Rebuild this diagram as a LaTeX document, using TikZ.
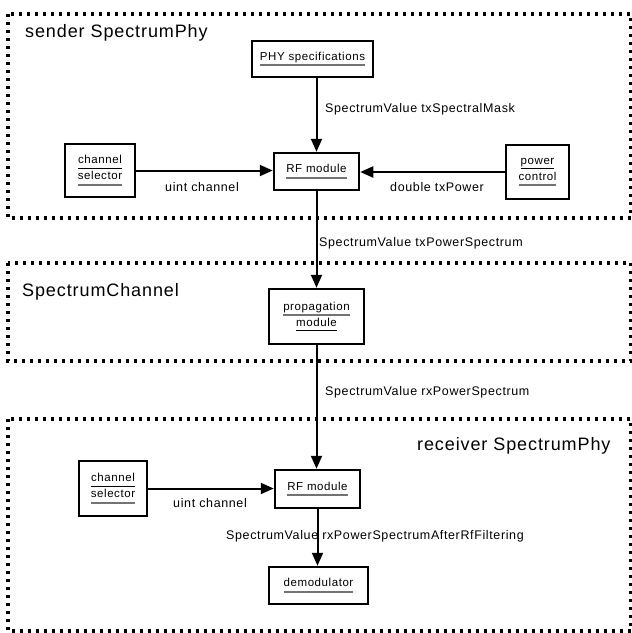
\documentclass[tikz,border=0pt]{standalone}
\usepackage{fontspec}
\setmainfont{Liberation Sans}
\newfontfamily\lsfont[LetterSpace=5]{Liberation Sans}
\usetikzlibrary{arrows.meta}
\definecolor{ulgray}{gray}{0.45}
\newsavebox\ulbox
\newcommand\ulx[3]{\sbox\ulbox{#3}\vtop{\offinterlineskip\hbox{\usebox\ulbox}\kern-\dp\ulbox\kern4pt\hbox{\color{#1}\rule{\wd\ulbox}{#2}}}}
\newcommand\ulk[1]{\ulx{black}{1pt}{#1}}
\newcommand\ulg[1]{\ulx{ulgray}{1.8pt}{#1}}
\begin{document}
\begin{tikzpicture}[x=1pt,y=-1pt,
 region/.style={draw, line width=3.3pt, dash pattern=on 3pt off 5pt},
 modbox/.style={draw, line width=2.5pt, inner sep=0pt, font=\lsfont\fontsize{11.5}{16}\selectfont, align=center},
 arr/.style={line width=2pt, -{Triangle[length=13pt,width=11pt]}},
 lbl/.style={font=\lsfont\fontsize{12.5}{14}\selectfont, inner sep=0pt, anchor=west},
 ttl/.style={font=\lsfont\fontsize{18}{20}\selectfont, inner sep=0pt, anchor=base west}]
\path[use as bounding box] (0,0) rectangle (632,633);
% regions
\draw[region] (8,14) rectangle (631,218);
\draw[region] (8,263) rectangle (631,361);
\draw[region] (8,419) rectangle (631,631);
\node[ttl] (t1) at (25,37) {sender SpectrumPhy};
\node[ttl] (t2) at (22,296) {SpectrumChannel};
\node[ttl] (t3) at (417,450) {receiver SpectrumPhy};
% modules
\node[modbox, minimum width=121pt, minimum height=36pt] (phy) at (312.5,59) {\ulg{PHY specifications}};
\node[modbox, minimum width=85pt, minimum height=37pt] (rf1) at (316.5,171.5) {\ulg{RF module}};
\node[modbox, minimum width=70pt, minimum height=53pt] (sel1) at (100,170.5) {\ulk{channel}\\\ulg{selector}};
\node[modbox, minimum width=63pt, minimum height=54pt] (pow) at (537.5,172) {\ulk{power}\\\ulg{control}};
\node[modbox, minimum width=95pt, minimum height=55pt] (prop) at (316.5,316.5) {\ulg{propagation}\\\ulk{module}};
\node[modbox, minimum width=85pt, minimum height=38pt] (rf2) at (317.5,489) {\ulg{RF module}};
\node[modbox, minimum width=68pt, minimum height=55pt] (sel2) at (113,488.5) {\ulk{channel}\\\ulg{selector}};
\node[modbox, minimum width=99pt, minimum height=37pt] (demod) at (318.5,585.5) {\ulg{demodulator}};
% connectors
\draw[arr] (rf1.north |- phy.south) -- (rf1.north);
\draw[arr] (sel1.east) -- (sel1.east -| rf1.west);
\draw[arr] (pow.west) -- (pow.west -| rf1.east);
\draw[arr] (rf1.south) -- (rf1.south |- prop.north);
\draw[arr] (prop.south) -- (prop.south |- rf2.north);
\draw[arr] (sel2.east) -- (sel2.east -| rf2.west);
\draw[arr] (rf2.south) -- (rf2.south |- demod.north);
% labels
\node[lbl] (l1) at (325,109) {SpectrumValue txSpectralMask};
\node[lbl] (l2) at (165,187) {uint channel};
\node[lbl] (l3) at (390,187) {double txPower};
\node[lbl] (l4) at (319,243) {SpectrumValue txPowerSpectrum};
\node[lbl] (l5) at (325,392) {SpectrumValue rxPowerSpectrum};
\node[lbl] (l6) at (173,503) {uint channel};
\node[lbl] (l7) at (226,536) {SpectrumValue rxPowerSpectrumAfterRfFiltering};
\end{tikzpicture}
\end{document}
